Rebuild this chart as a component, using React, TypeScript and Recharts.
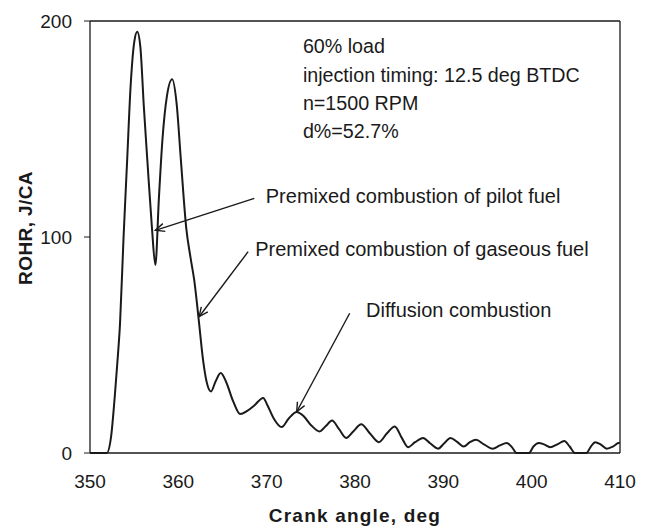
import React from 'react';
import { LineChart, Line, XAxis, YAxis, ReferenceLine, ReferenceDot } from 'recharts';

// crank angle (deg) and rate of heat release (J/CA)
const angle = [
  350, 351, 351.9, 352.4, 352.8, 353.1, 353.4, 353.8, 354.2, 354.6, 355.0, 355.35, 355.7, 356.1, 356.5,
  357.0, 357.4, 357.8, 358.2, 358.7, 359.3, 359.8, 360.3, 360.9, 361.4, 361.8, 362.3, 362.8, 363.2,
  363.7, 364.2, 364.8, 365.4, 366.2, 367.0, 367.8, 368.6, 369.6, 370.1, 370.8, 371.7, 372.5, 373.4,
  374.2, 375.0, 376.0, 376.7, 377.4, 378.2, 379.0, 379.8, 380.7, 381.7, 382.7, 383.6, 384.5, 385.3,
  386.0, 386.8, 387.7, 388.5, 389.4, 390.1, 390.8, 391.6, 392.3, 393.0, 393.7, 394.6, 395.6, 396.4,
  397.2, 397.8, 398.3, 399.7, 400.2, 400.8, 401.4, 402.1, 402.9, 403.7, 404.3, 404.9, 406.2, 406.7,
  407.2, 407.8, 408.5, 409.2, 409.8, 410,
];
const rohr = [
  0, 0, 0, 8, 26, 42, 60, 100, 135, 170, 190, 195, 188, 160, 135,
  105, 87, 118, 145, 165, 173, 162, 135, 104, 90, 80, 62, 43, 33,
  28.5, 33, 37, 33, 24, 18, 19.5, 22, 25.5, 22, 16, 12, 16, 19,
  17, 13, 10, 12.5, 15, 11, 7, 10, 13.3, 9, 5, 9, 12.3, 7,
  2.7, 5, 7, 4.5, 2, 4.5, 7, 5, 3, 5, 6.1, 4, 2, 3.5,
  4.6, 2.5, 0, 0, 3, 4.6, 4, 2.7, 4, 5.5, 3, 0, 0, 3,
  5, 4, 2, 3, 4.6, 4.8,
];
const xTicks = [350, 360, 370, 380, 390, 400, 410];
const yTicks = [0, 100, 200];

const conditions = ['60% load', 'injection timing: 12.5 deg BTDC', 'n=1500 RPM', 'd%=52.7%'];
// label anchor (left, baseline) in data units
const notes = [
  { text: 'Premixed combustion of pilot fuel', x: 369.9, y: 115.6 },
  { text: 'Premixed combustion of gaseous fuel', x: 368.7, y: 91.2 },
  { text: 'Diffusion combustion', x: 381.25, y: 62.8 },
];
// arrows: from label to tip, in data units
const arrows = [
  { from: { x: 368.6, y: 117.9 }, to: { x: 357.4, y: 103.1 } },
  { from: { x: 367.9, y: 93.2 }, to: { x: 362.35, y: 63.1 } },
  { from: { x: 379.4, y: 64.7 }, to: { x: 373.4, y: 19.1 } },
];

const data = angle.map((a, i) => ({ angle: a, rohr: rohr[i] }));

const font = 'Arial, "Liberation Sans", sans-serif';
const ink = '#1a1a1a';

const Arrow = (p: any) => {
  const { x1, y1, x2, y2 } = p;
  const ang = Math.atan2(y1 - y2, x1 - x2);
  const len = 10;
  const spread = 0.42;
  const a1x = x2 + len * Math.cos(ang + spread);
  const a1y = y2 + len * Math.sin(ang + spread);
  const a2x = x2 + len * Math.cos(ang - spread);
  const a2y = y2 + len * Math.sin(ang - spread);
  return (
    <g stroke={ink} strokeWidth={1.4} fill="none">
      <line x1={x1} y1={y1} x2={x2} y2={y2} />
      <polyline points={`${a1x},${a1y} ${x2},${y2} ${a2x},${a2y}`} />
    </g>
  );
};

export default function App() {
  return (
    <div style={{ position: 'absolute', left: 0, top: 0, background: '#fff' }}>
      <LineChart width={649} height={527} data={data} margin={{ top: 21, right: 29, bottom: 0, left: 0 }}>
        <XAxis
          dataKey="angle"
          type="number"
          domain={[350, 410]}
          ticks={xTicks}
          interval={0}
          height={74}
          tickLine={false}
          tickSize={6}
          tickMargin={16}
          axisLine={{ stroke: ink, strokeWidth: 1.3 }}
          tick={{ fontSize: 19, fill: ink, fontFamily: font }}
          label={(props: any) => {
            const vb = props.viewBox;
            return (
              <text x={vb.x + vb.width / 2} y={522} textAnchor="middle" fontFamily={font} fontWeight="bold"
                fontSize={19} letterSpacing={1.2} fill={ink}>Crank angle, deg</text>
            );
          }}
        />
        <YAxis
          type="number"
          domain={[0, 200]}
          ticks={yTicks}
          interval={0}
          width={90}
          tickSize={6}
          tickMargin={12}
          tickLine={{ stroke: ink }}
          axisLine={{ stroke: ink, strokeWidth: 1.3 }}
          tick={{ fontSize: 19, fill: ink, fontFamily: font }}
          label={(props: any) => {
            const vb = props.viewBox;
            const cy = vb.y + vb.height / 2 - 9;
            return (
              <text x={25} y={cy} transform={`rotate(-90 25 ${cy})`} textAnchor="middle" dominantBaseline="central"
                fontFamily={font} fontWeight="bold" fontSize={19} letterSpacing={0.4} fill={ink}>ROHR, J/CA</text>
            );
          }}
        />
        <ReferenceLine y={200} stroke={ink} strokeWidth={1.3} />
        <ReferenceLine x={410} stroke={ink} strokeWidth={1.3} />
        <Line type="monotone" dataKey="rohr" stroke={ink} strokeWidth={2} dot={false} isAnimationActive={false} />
        {arrows.map((a, i) => (
          <ReferenceLine key={'a' + i} segment={[a.from, a.to]} shape={Arrow} />
        ))}
        <ReferenceDot
          x={374.1}
          y={185}
          r={1}
          shape={(p: any) => (
            <text x={p.cx} y={p.cy} fontFamily={font} fontSize={19.7} fill={ink}>
              {conditions.map((c, i) => (
                <tspan key={i} x={p.cx} dy={i === 0 ? 0 : 28.3}>{c}</tspan>
              ))}
            </text>
          )}
        />
        {notes.map((n, i) => (
          <ReferenceDot
            key={'n' + i}
            x={n.x}
            y={n.y}
            r={1}
            shape={(p: any) => (
              <text x={p.cx} y={p.cy} fontFamily={font} fontSize={20} fill={ink}>{n.text}</text>
            )}
          />
        ))}
      </LineChart>
    </div>
  );
}
